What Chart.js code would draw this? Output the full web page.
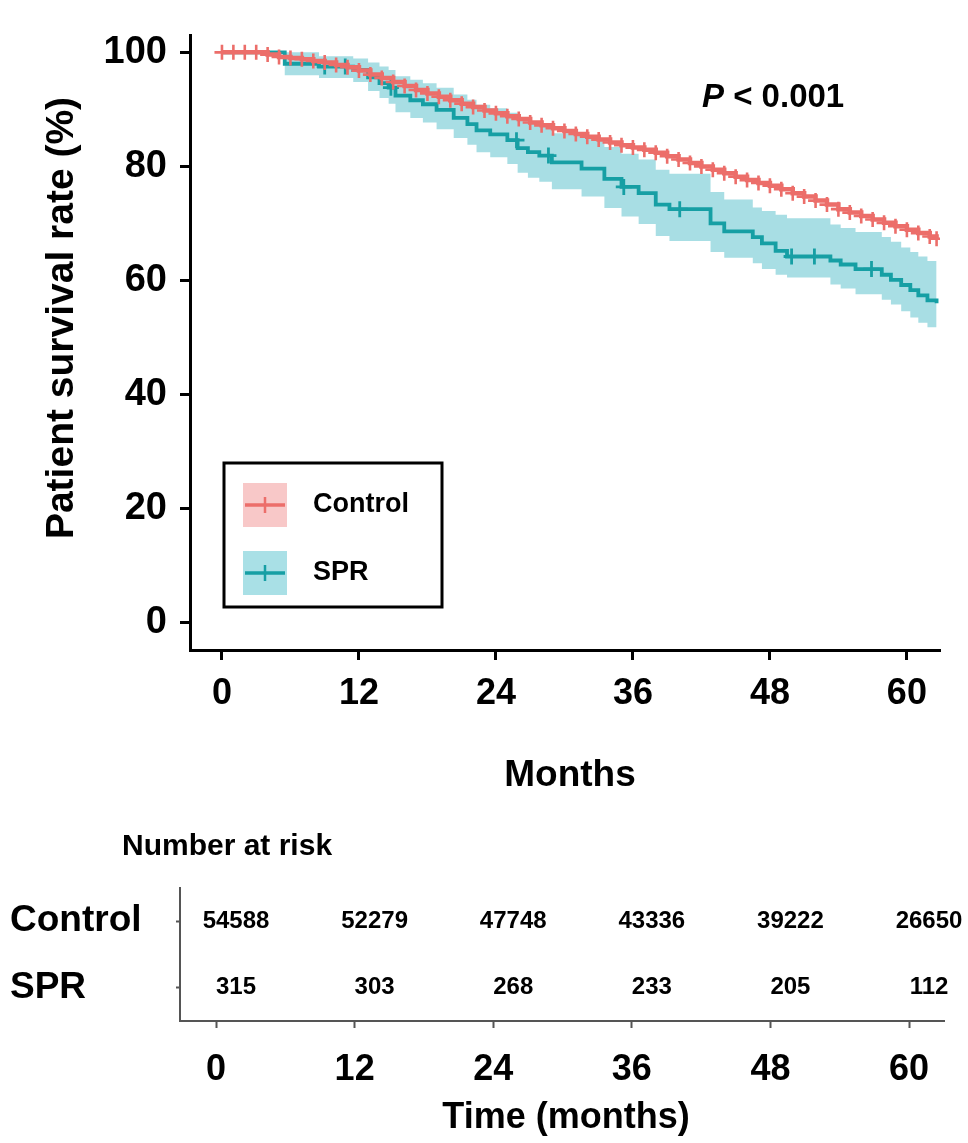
<!DOCTYPE html>
<html><head><meta charset="utf-8">
<script src="https://cdn.jsdelivr.net/npm/chart.js@4"></script>
<style>
html,body{margin:0;padding:0;background:#fff;}
#wrap{position:relative;width:968px;height:1143px;overflow:hidden;}
.box{position:absolute;left:0;}
</style></head><body>
<div id="wrap">
<div class="box" style="top:0;width:968px;height:800px"><canvas id="main" width="968" height="800"></canvas></div>
<div class="box" style="top:800px;width:968px;height:343px"><canvas id="risk" width="968" height="343"></canvas></div>
</div>
<script>
// ---------- data ----------
const xTicks = [0, 12, 24, 36, 48, 60];
const yTicks = [0, 20, 40, 60, 80, 100];

const controlMonths = [0,1,2,3,4,5,6,7,8,9,10,11,12,13,14,15,16,17,18,19,20,21,22,23,24,25,26,27,28,29,30,31,32,33,34,35,36,37,38,39,40,41,42,43,44,45,46,47,48,49,50,51,52,53,54,55,56,57,58,59,60,61,62,62.6];
const controlSurv = [100,100,100,100,99.6,99.2,99.0,98.8,98.5,98.2,97.8,97.4,96.8,96.1,95.5,94.8,94.1,93.4,92.8,92.2,91.6,91.0,90.4,89.8,89.3,88.8,88.3,87.7,87.2,86.7,86.2,85.7,85.2,84.7,84.2,83.7,83.3,82.9,82.4,81.8,81.2,80.6,80.0,79.4,78.8,78.2,77.6,77.1,76.6,76.0,75.3,74.7,74.0,73.3,72.5,71.9,71.3,70.7,70.1,69.5,68.9,68.3,67.7,67.3];

const sprTime  = [0,5.5,8.5,11.5,12.8,13.8,14.6,15.2,16.5,17.6,18.8,20.3,21.5,22.3,23.5,25.0,25.9,26.8,27.8,28.9,31.5,33.5,35.0,36.5,38.0,39.2,42.8,44.0,46.5,47.3,48.5,49.5,53.3,54.2,55.5,57.8,58.6,59.5,60.3,61.0,61.8,62.6];
const sprSurv  = [100,98.0,97.5,96.9,95.6,94.6,93.8,92.4,91.6,90.9,89.9,88.5,87.4,86.3,85.6,84.6,83.2,82.5,81.9,80.7,79.6,77.8,76.4,75.3,73.3,72.5,70.0,68.6,67.6,66.5,65.2,64.2,63.5,62.8,62.0,61.0,60.1,59.2,58.3,57.4,56.5,56.0];
const sprUpper = [100,100,99.3,98.9,98.2,97.5,96.9,95.8,95.2,94.6,93.8,92.6,91.7,90.8,90.2,89.4,88.2,87.6,87.1,85.8,85.0,83.4,82.2,81.2,79.4,78.7,75.5,74.2,72.8,72.2,71.5,70.9,69.8,69.2,68.5,67.6,66.8,65.8,65.0,64.2,63.4,63.0];
const sprLower = [100,96.0,95.5,94.8,93.2,92.0,91.0,89.5,88.5,87.7,86.5,85.0,83.8,82.5,81.6,80.4,78.9,78.0,77.3,76.0,74.7,72.7,71.2,69.9,67.8,66.9,65.0,64.0,63.0,62.0,61.0,60.5,59.3,58.6,57.6,56.6,55.8,54.6,53.5,52.6,51.8,51.2];
const sprCensorTime = [9.0,10.8,14.8,25.8,28.6,35.2,40.1,49.9,51.9,56.9];
const sprCensorSurv = [97.5,97.5,93.8,84.6,81.9,76.4,72.5,64.2,64.2,62.0];

const seriesNames = ['Control', 'SPR'];
const riskTimes = [0, 12, 24, 36, 48, 60];
const riskControl = [54588, 52279, 47748, 43336, 39222, 26650];
const riskSPR = [315, 303, 268, 233, 205, 112];

const yTitle = 'Patient survival rate (%)';
const xTitle = 'Months';
const pText = ['P', ' < 0.001'];
const riskTitle = 'Number at risk';
const riskXTitle = 'Time (months)';

// ---------- styles ----------
const FONT = "'Liberation Sans', Arial, Helvetica, sans-serif";
const RED = '#EC6E6A';
const TEAL = '#169FA4';
const BAND = '#A8DEE4';
const PINK = '#F8C8C8';
const LEGTEAL = '#A9E0E6';
Chart.defaults.font.family = FONT;
Chart.defaults.color = '#000';

const pts = (xs, ys) => xs.map((x, i) => ({x: x, y: ys[i]}));
const fixTicks = (arr) => (s) => { s.ticks = arr.map(v => ({value: v})); };

const mainDecor = {
  id: 'mainDecor',
  afterDraw(chart) {
    const ctx = chart.ctx;
    ctx.save();
    ctx.fillStyle = '#000';
    ctx.save();
    ctx.font = 'bold 39px ' + FONT;
    ctx.textAlign = 'center'; ctx.textBaseline = 'middle';
    ctx.translate(62, 318); ctx.rotate(-Math.PI / 2);
    ctx.fillText(yTitle, 0, 0);
    ctx.restore();
    ctx.font = 'bold 37px ' + FONT;
    ctx.textAlign = 'center'; ctx.textBaseline = 'middle';
    ctx.fillText(xTitle, 570, 776);
    ctx.textAlign = 'left';
    ctx.font = 'italic bold 33px ' + FONT;
    ctx.fillText(pText[0], 702, 98);
    const w = ctx.measureText(pText[0]).width;
    ctx.font = 'bold 33px ' + FONT;
    ctx.fillText(pText[1], 702 + w, 98);
    ctx.lineWidth = 3; ctx.strokeStyle = '#000';
    ctx.strokeRect(224, 463, 218, 144);
    const items = [[PINK, RED, 505], [LEGTEAL, TEAL, 573]];
    items.forEach((it, i) => {
      ctx.fillStyle = it[0];
      ctx.fillRect(243, it[2] - 22, 44, 44);
      ctx.strokeStyle = it[1]; ctx.lineWidth = 3.5;
      ctx.beginPath(); ctx.moveTo(245, it[2]); ctx.lineTo(285, it[2]); ctx.stroke();
      ctx.lineWidth = 2.5;
      ctx.beginPath(); ctx.moveTo(265, it[2] - 8); ctx.lineTo(265, it[2] + 8); ctx.stroke();
      ctx.fillStyle = '#000';
      ctx.font = 'bold 27px ' + FONT;
      ctx.textAlign = 'left'; ctx.textBaseline = 'middle';
      ctx.fillText(seriesNames[i], 313, it[2]);
    });
    ctx.restore();
  }
};

const axisGrid = { display: true, drawOnChartArea: false, drawTicks: true, tickLength: 10, tickWidth: 3, tickColor: '#000' };
const axisBorder = { display: true, color: '#000', width: 3 };

new Chart(document.getElementById('main'), {
  type: 'line',
  data: {
    datasets: [
      { label: seriesNames[0], data: pts(controlMonths, controlSurv), stepped: 'before',
        borderColor: RED, borderWidth: 4.5, pointStyle: 'cross', pointRadius: 7.5, pointBorderWidth: 2.6,
        pointBorderColor: RED, pointHoverRadius: 0, fill: false, order: 0 },
      { label: 'SPR censored', type: 'scatter', data: pts(sprCensorTime, sprCensorSurv), showLine: false,
        pointStyle: 'cross', pointRadius: 8, pointBorderWidth: 2.8, pointBorderColor: TEAL, borderColor: TEAL,
        pointHoverRadius: 0, order: 1 },
      { label: seriesNames[1], data: pts(sprTime, sprSurv), stepped: 'before',
        borderColor: TEAL, borderWidth: 3.8, pointRadius: 0, fill: false, order: 2 },
      { label: 'SPR lower', data: pts(sprTime, sprLower), stepped: 'before',
        borderColor: 'rgba(0,0,0,0)', borderWidth: 1, pointRadius: 0, fill: false, order: 3 },
      { label: 'SPR upper', data: pts(sprTime, sprUpper), stepped: 'before',
        borderColor: 'rgba(0,0,0,0)', borderWidth: 1, pointRadius: 0, fill: {target: 3}, backgroundColor: BAND, order: 4 }
    ]
  },
  options: {
    responsive: false, animation: false, events: [],
    layout: { padding: { top: 20, right: 28, left: 0, bottom: 0 } },
    plugins: { legend: { display: false }, tooltip: { enabled: false } },
    scales: {
      x: { type: 'linear', min: -2.8, max: 62.9, afterBuildTicks: fixTicks(xTicks), afterFit: s => { s.height = 150; },
        ticks: { font: { size: 36, weight: 'bold' }, color: '#000', padding: 12, maxRotation: 0, autoSkip: false },
        grid: axisGrid, border: axisBorder },
      y: { type: 'linear', min: -4.8, max: 102.9, afterBuildTicks: fixTicks(yTicks), afterFit: s => { s.width = 190; },
        ticks: { font: { size: 38, weight: 'bold' }, color: '#000', padding: 13, autoSkip: false },
        grid: axisGrid, border: axisBorder }
    }
  },
  plugins: [mainDecor]
});

// ---------- risk table ----------
const rowVal = (i) => (seriesNames.length - i) * 2 - 1;
const riskDecor = {
  id: 'riskDecor',
  afterDatasetsDraw(chart) {
    const ctx = chart.ctx;
    ctx.save();
    ctx.fillStyle = '#000';
    ctx.font = 'bold 24px ' + FONT;
    ctx.textAlign = 'center'; ctx.textBaseline = 'middle';
    chart.data.datasets.forEach((ds, di) => {
      const meta = chart.getDatasetMeta(di);
      meta.data.forEach((el, j) => {
        ctx.fillText(String(ds.data[j].n), el.x + 20, el.y);
      });
    });
    ctx.font = 'bold 30px ' + FONT;
    ctx.textAlign = 'left';
    ctx.fillText(riskTitle, 122, 47);
    ctx.font = 'bold 36px ' + FONT;
    ctx.textAlign = 'center';
    ctx.fillText(riskXTitle, 566, 318);
    ctx.restore();
  }
};
const riskRows = [riskControl, riskSPR];
new Chart(document.getElementById('risk'), {
  type: 'scatter',
  data: {
    datasets: riskRows.map((row, i) => ({
      label: seriesNames[i],
      data: riskTimes.map((t, j) => ({ x: t, y: rowVal(i), n: row[j] })),
      pointRadius: 0, pointHoverRadius: 0
    }))
  },
  options: {
    responsive: false, animation: false, events: [],
    layout: { padding: { top: 88, right: 24, left: 10, bottom: 0 } },
    plugins: { legend: { display: false }, tooltip: { enabled: false } },
    scales: {
      x: { type: 'linear', min: -3.12, max: 63.03, afterBuildTicks: fixTicks(riskTimes), afterFit: s => { s.height = 122; },
        ticks: { font: { size: 36, weight: 'bold' }, color: '#000', padding: 20, maxRotation: 0, autoSkip: false },
        grid: { display: true, drawOnChartArea: false, drawTicks: true, tickLength: 7, tickWidth: 2, tickColor: '#555' },
        border: { display: true, color: '#555', width: 2 } },
      y: { type: 'linear', min: 0, max: 4, afterBuildTicks: fixTicks(seriesNames.map((n, i) => rowVal(i))),
        afterFit: s => { s.width = 170; },
        ticks: { font: { size: 37, weight: 'bold' }, color: '#000', crossAlign: 'far', autoSkip: false,
          callback: (v) => seriesNames[seriesNames.length - (v + 1) / 2] },
        grid: { display: true, drawOnChartArea: false, drawTicks: true, tickLength: 4, tickWidth: 2, tickColor: '#555' },
        border: { display: true, color: '#555', width: 2 } }
    }
  },
  plugins: [riskDecor]
});
</script>
</body></html>
